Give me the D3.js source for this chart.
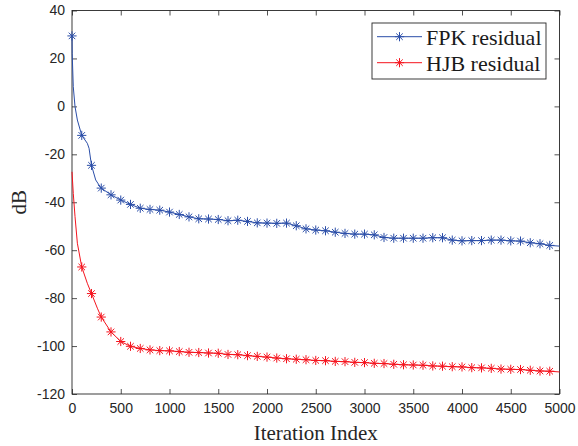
<!DOCTYPE html>
<html>
<head>
<meta charset="utf-8">
<script src="https://cdn.jsdelivr.net/npm/d3@7"></script>
<style>
  body { margin: 0; background: #fff; }
  svg { display: block; }
</style>
</head>
<body>
<div id="chart"></div>
<script>
// iteration index and residual (dB)
var fpkIter = [0, 2, 13, 31, 55, 100, 157, 175, 192, 200, 243, 277, 300, 400, 500, 600, 700, 800, 900, 1000,
  1100, 1200, 1300, 1400, 1500, 1600, 1700, 1800, 1900, 2000, 2100, 2200, 2300, 2400, 2500, 2600, 2700, 2800, 2900, 3000,
  3100, 3200, 3300, 3400, 3500, 3600, 3700, 3800, 3900, 4000, 4100, 4200, 4300, 4400, 4500, 4600, 4700, 4800, 4900, 5000];
var fpkVal = [29.4, 22, 8.2, -0.1, -5.7, -12.1, -15.4, -17.5, -22.4, -24.6, -30.7, -32.8, -34.1, -36.9, -39.1, -40.9, -42.5, -43.0, -43.3, -44.1,
  -45.1, -46.1, -46.9, -47.0, -47.2, -47.7, -47.5, -48.0, -48.6, -48.7, -48.8, -48.7, -49.8, -51.1, -51.6, -51.9, -52.5, -53.0, -53.3, -53.3,
  -53.6, -54.7, -55.0, -55.0, -55.0, -55.0, -54.8, -54.8, -55.8, -56.1, -56.0, -56.0, -55.8, -55.8, -56.1, -56.2, -56.9, -57.3, -58.0, -58.3];

var hjbIter = [0, 13, 31, 55, 100, 157, 200, 260, 300, 400, 500, 600, 700, 800, 900, 1000,
  1100, 1200, 1300, 1400, 1500, 1600, 1700, 1800, 1900, 2000, 2100, 2200, 2300, 2400, 2500, 2600, 2700, 2800, 2900, 3000,
  3100, 3200, 3300, 3400, 3500, 3600, 3700, 3800, 3900, 4000, 4100, 4200, 4300, 4400, 4500, 4600, 4700, 4800, 4900, 5000];
var hjbVal = [-27.3, -36.3, -46.0, -57.1, -67.0, -73.8, -78.1, -84.2, -87.9, -94.1, -98.1, -100.1, -101.0, -101.6, -101.9, -102.0,
  -102.3, -102.6, -102.7, -102.9, -103.0, -103.5, -103.6, -104.0, -104.3, -104.6, -105.0, -105.3, -105.5, -105.7, -106.0, -106.1, -106.4, -106.5, -106.8, -106.9,
  -107.2, -107.3, -107.6, -107.8, -107.9, -108.0, -108.3, -108.4, -108.6, -108.7, -109.0, -109.1, -109.3, -109.6, -109.7, -109.8, -110.1, -110.4, -110.5, -110.8];

var xTicks = [0, 500, 1000, 1500, 2000, 2500, 3000, 3500, 4000, 4500, 5000];
var yTicks = [-120, -100, -80, -60, -40, -20, 0, 20, 40];
var seriesNames = ["FPK residual", "HJB residual"];
var seriesColors = ["#2b4ea8", "#f5141e"];

var W = 578, H = 446;
var margin = {top: 10.5, right: 18.5, bottom: 52, left: 72},
    width = W - margin.left - margin.right,
    height = H - margin.top - margin.bottom;

var svg = d3.select("#chart")
  .append("svg")
    .attr("width", W)
    .attr("height", H)
  .append("g")
    .attr("transform", "translate(" + margin.left + "," + margin.top + ")");

var x = d3.scaleLinear().domain([0, 5000]).range([0, width]);
var y = d3.scaleLinear().domain([-120, 40]).range([height, 0]);

var axisColor = "#262626";
var plain = function(d) { return String(d); };

function styleAxis(g) {
  g.select(".domain").remove();
  g.selectAll("line").attr("stroke", axisColor).attr("stroke-width", 0.8);
  g.selectAll("text").attr("fill", axisColor)
    .style("font-family", "Arial, 'Liberation Sans', sans-serif")
    .style("font-size", "14px");
}

svg.append("g")
  .attr("transform", "translate(0," + height + ")")
  .call(d3.axisBottom(x).tickValues(xTicks).tickFormat(plain).tickSizeInner(-5).tickSizeOuter(0).tickPadding(9))
  .call(styleAxis);
svg.append("g")
  .call(d3.axisLeft(y).tickValues(yTicks).tickFormat(plain).tickSizeInner(-5).tickSizeOuter(0).tickPadding(7))
  .call(styleAxis);
svg.append("g")
  .call(d3.axisTop(x).tickValues(xTicks).tickSizeInner(-5).tickSizeOuter(0).tickFormat(""))
  .call(styleAxis);
svg.append("g")
  .attr("transform", "translate(" + width + ",0)")
  .call(d3.axisRight(y).tickValues(yTicks).tickSizeInner(-5).tickSizeOuter(0).tickFormat(""))
  .call(styleAxis);

// box
svg.append("rect")
  .attr("width", width).attr("height", height)
  .attr("fill", "none").attr("stroke", axisColor).attr("stroke-width", 0.9);

var line = d3.line()
  .x(function(d) { return x(d[0]); })
  .y(function(d) { return y(d[1]); });

// asterisk marker
var r = 4.6, q = r * 0.7071;
var star = "M" + (-r) + ",0L" + r + ",0M0," + (-r) + "L0," + r +
           "M" + (-q) + "," + (-q) + "L" + q + "," + q + "M" + (-q) + "," + q + "L" + q + "," + (-q);

var series = [
  {iter: fpkIter, val: fpkVal, color: seriesColors[0], first: 0},
  {iter: hjbIter, val: hjbVal, color: seriesColors[1], first: 100}
];

series.forEach(function(s) {
  var pts = s.iter.map(function(it, i) { return [it, s.val[i]]; });
  svg.append("path")
    .datum(pts)
    .attr("fill", "none")
    .attr("stroke", s.color)
    .attr("stroke-width", 1)
    .attr("d", line);
  svg.selectAll(null)
    .data(pts.filter(function(d) { return d[0] % 100 === 0 && d[0] >= s.first && d[0] < 5000; }))
    .enter()
    .append("path")
      .attr("transform", function(d) { return "translate(" + x(d[0]) + "," + y(d[1]) + ")"; })
      .attr("d", star)
      .attr("fill", "none")
      .attr("stroke", s.color)
      .attr("stroke-width", 1);
});

// axis labels
svg.append("text")
  .attr("x", width / 2)
  .attr("y", height + 46)
  .attr("text-anchor", "middle")
  .style("font-family", "'Times New Roman', 'Liberation Serif', serif")
  .style("font-size", "21px")
  .attr("fill", axisColor)
  .text("Iteration Index");

svg.append("text")
  .attr("transform", "rotate(-90)")
  .attr("x", -height / 2)
  .attr("y", -margin.left + 26)
  .attr("text-anchor", "middle")
  .style("font-family", "'Times New Roman', 'Liberation Serif', serif")
  .style("font-size", "21px")
  .attr("fill", axisColor)
  .text("dB");

// legend
var leg = svg.append("g").attr("transform", "translate(" + (372 - margin.left) + "," + (23 - margin.top) + ")");
leg.append("rect")
  .attr("width", 174).attr("height", 56)
  .attr("fill", "#fff").attr("stroke", axisColor).attr("stroke-width", 0.9);
seriesNames.forEach(function(name, i) {
  var ly = 13.7 + i * 26;
  leg.append("line")
    .attr("x1", 5).attr("x2", 50).attr("y1", ly).attr("y2", ly)
    .attr("stroke", seriesColors[i]).attr("stroke-width", 1);
  leg.append("path")
    .attr("transform", "translate(27.5," + ly + ")")
    .attr("d", star).attr("fill", "none")
    .attr("stroke", seriesColors[i]).attr("stroke-width", 1);
  leg.append("text")
    .attr("x", 54).attr("y", ly + 8)
    .style("font-family", "'Times New Roman', 'Liberation Serif', serif")
    .style("font-size", "22px")
    .attr("fill", "#1a1a1a")
    .text(name);
});
</script>
</body>
</html>
